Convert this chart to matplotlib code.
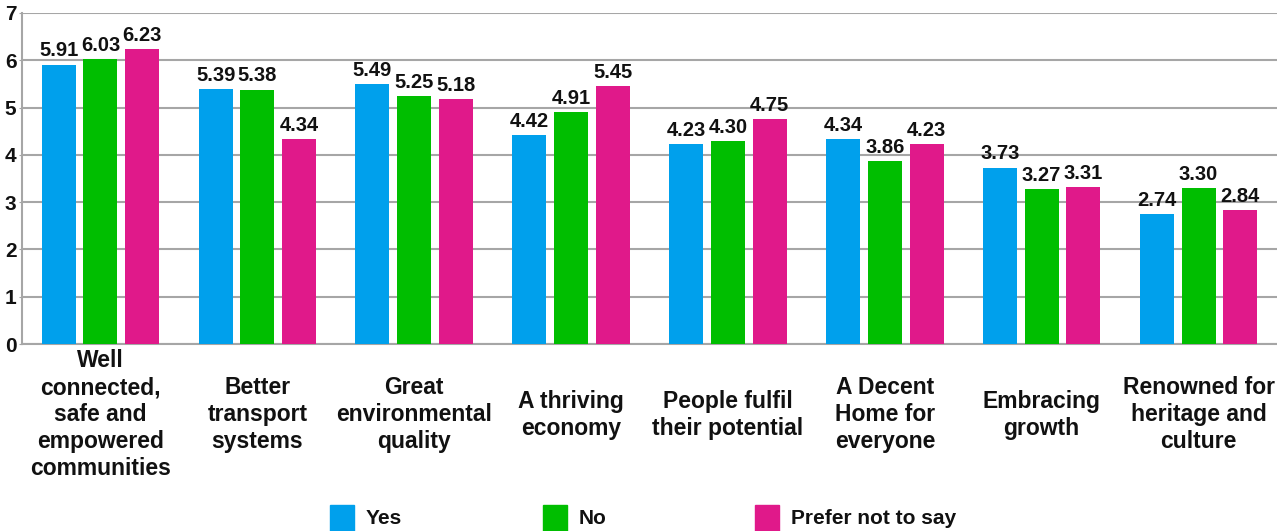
import matplotlib
matplotlib.use("Agg")
import matplotlib.pyplot as plt
from matplotlib.patches import Rectangle
import numpy as np

categories = [
    "Well\nconnected,\nsafe and\nempowered\ncommunities",
    "Better\ntransport\nsystems",
    "Great\nenvironmental\nquality",
    "A thriving\neconomy",
    "People fulfil\ntheir potential",
    "A Decent\nHome for\neveryone",
    "Embracing\ngrowth",
    "Renowned for\nheritage and\nculture",
]
series_names = ["Yes", "No", "Prefer not to say"]
yes_vals = [5.91, 5.39, 5.49, 4.42, 4.23, 4.34, 3.73, 2.74]
no_vals = [6.03, 5.38, 5.25, 4.91, 4.30, 3.86, 3.27, 3.30]
prefer_vals = [6.23, 4.34, 5.18, 5.45, 4.75, 4.23, 3.31, 2.84]
colors = ["#00a0ec", "#00be00", "#e0198a"]
y_ticks = [0, 1, 2, 3, 4, 5, 6, 7]

plt.rcParams["font.family"] = ["Liberation Sans", "DejaVu Sans"]
plt.rcParams["font.weight"] = "bold"

W, H = 1277, 531
fig = plt.figure(figsize=(W / 100, H / 100), dpi=100)
ax = fig.add_axes([22 / W, 1 - 344 / H, 1 - 22 / W, 331 / H])

x = np.arange(len(categories))
width = 0.217
offset = 0.266
for k, (vals, col) in enumerate(zip([yes_vals, no_vals, prefer_vals], colors)):
    bars = ax.bar(x + (k - 1) * offset, vals, width, color=col, zorder=3)
    ax.bar_label(bars, labels=[f"{v:.2f}" for v in vals], padding=3,
                 fontsize=14.5, fontweight="bold", color="#111111")

ax.set_xlim(-0.5, len(categories) - 0.5)
ax.set_ylim(0, 7)
ax.set_yticks(y_ticks)
ax.set_yticklabels([str(t) for t in y_ticks], fontsize=15, fontweight="bold",
                   color="#111111")
ax.yaxis.grid(True, color="#a6a6a6", linewidth=1.5, zorder=0)
ax.tick_params(axis="y", length=2, color="#a6a6a6", pad=2)
# category labels centred on a common line below the axis
ax.tick_params(axis="x", length=0, pad=51)
ax.set_xticks(x)
ax.set_xticklabels(categories, fontsize=16.5, fontweight="bold", linespacing=1.22,
                   va="center", color="#111111")
for side in ["top", "right"]:
    ax.spines[side].set_visible(False)
for side in ["left", "bottom"]:
    ax.spines[side].set_color("#a6a6a6")
    ax.spines[side].set_linewidth(1.5)

# Legend drawn as swatches with labels along the bottom edge
legend_x = [330, 543, 755]
for name, col, lx in zip(series_names, colors, legend_x):
    fig.patches.append(Rectangle((lx / W, 0), 24 / W, 26 / H,
                                 transform=fig.transFigure, color=col))
    fig.text((lx + 36) / W, 1 - 519 / H, name, fontsize=15, fontweight="bold",
             va="center", ha="left", color="#111111")

fig.savefig("out.png", dpi=100)
